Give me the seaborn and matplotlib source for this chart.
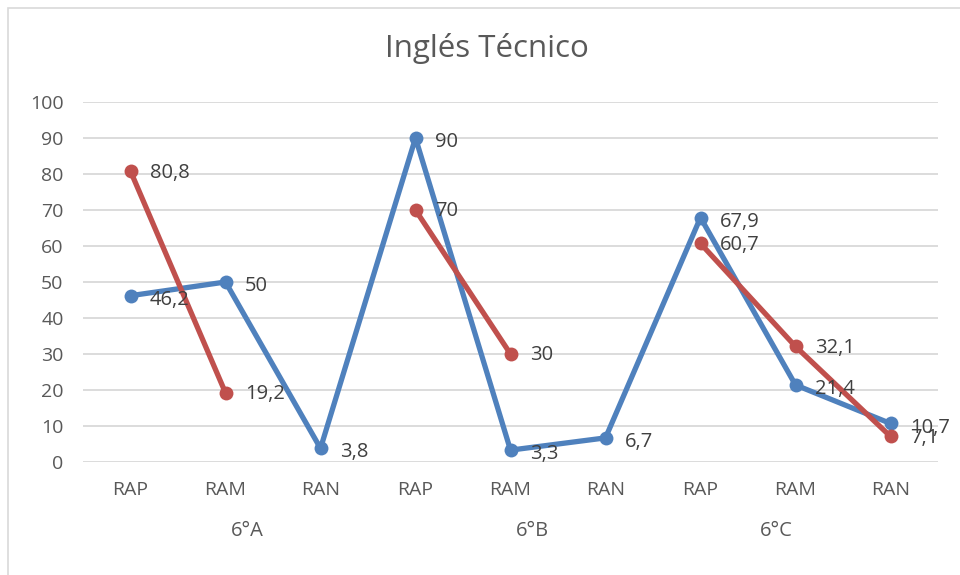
import numpy as np
import pandas as pd
import matplotlib.pyplot as plt
import matplotlib.transforms as mtransforms
import seaborn as sns

# Datos
grupos = ["6°A", "6°B", "6°C"]
niveles = ["RAP", "RAM", "RAN"]
serie_azul = [46.2, 50, 3.8, 90, 3.3, 6.7, 67.9, 21.4, 10.7]
serie_roja = [80.8, 19.2, np.nan, 70, 30, np.nan, 60.7, 32.1, 7.1]
etiquetas_azul = ["46,2", "50", "3,8", "90", "3,3", "6,7", "67,9", "21,4", "10,7"]
etiquetas_roja = ["80,8", "19,2", "", "70", "30", "", "60,7", "32,1", "7,1"]

sns.set_theme(style="white")
plt.rcParams['font.family'] = ['Open Sans', 'DejaVu Sans']

cat_labels = [n for g in grupos for n in niveles]
pos = np.arange(len(cat_labels))

# long-form table, red line broken where data is missing
rows = []
for i, v in enumerate(serie_azul):
    rows.append({"pos": i, "valor": v, "serie": "azul", "tramo": "a0"})
tramo = 0
for i, v in enumerate(serie_roja):
    if np.isnan(v):
        tramo += 1
        continue
    rows.append({"pos": i, "valor": v, "serie": "roja", "tramo": f"r{tramo}"})
df = pd.DataFrame(rows)

colores = {"azul": "#4F81BD", "roja": "#C0504D"}

fig = plt.figure(figsize=(9.6, 5.75), dpi=100)
ax = fig.add_axes([83 / 960, 1 - 462 / 575, (938 - 83) / 960, (462 - 102) / 575])

sns.lineplot(data=df, x="pos", y="valor", hue="serie", units="tramo", estimator=None,
             palette=colores, hue_order=["azul", "roja"], marker="o", markersize=10,
             markeredgewidth=0, linewidth=3.8, legend=False, sort=False, ax=ax)
for ln in ax.lines:
    ln.set_clip_on(False)
    ln.set_solid_capstyle("round")

# Data labels
for i, (v, t) in enumerate(zip(serie_azul, etiquetas_azul)):
    ax.annotate(t, (i, v), xytext=(14, -3), textcoords="offset points",
                ha="left", va="center", fontsize=14.5, color="#404040")
for i, (v, t) in enumerate(zip(serie_roja, etiquetas_roja)):
    if t:
        ax.annotate(t, (i, v), xytext=(14, -1), textcoords="offset points",
                    ha="left", va="center", fontsize=14.5, color="#404040")

ax.set_xlim(-0.5, len(cat_labels) - 0.5)
ax.set_ylim(0, 100)
ax.set_yticks(range(0, 101, 10))
ax.set_xticks(pos)
ax.set_xticklabels(cat_labels)
ax.tick_params(axis="x", length=0, pad=14, labelsize=14, labelcolor="#595959")
ax.tick_params(axis="y", length=0, pad=14, labelsize=14, labelcolor="#595959")
ax.yaxis.grid(True, color="#D9D9D9", linewidth=1.3)
ax.set_axisbelow(True)
for s in ax.spines.values():
    s.set_visible(False)
ax.set_xlabel("")
ax.set_ylabel("")

# Group labels (Excel places them a bit off-centre)
desplaz = [0.23, 0.23, -0.2]
trans = mtransforms.blended_transform_factory(ax.transData, fig.transFigure)
for k, g in enumerate(grupos):
    ax.text(k * 3 + 1 + desplaz[k], 1 - 531 / 575, g, transform=trans, ha="center",
            va="center", fontsize=14.5, color="#595959")

fig.text(487 / 960, 1 - 49 / 575, "Inglés Técnico", ha="center", va="center",
         fontsize=22.5, color="#595959")

# chart frame
fig.patches.append(plt.Rectangle((8 / 960, -0.1), 1.2, 1 - 8 / 575 + 0.1,
                                 transform=fig.transFigure, fill=False,
                                 edgecolor="#D9D9D9", linewidth=1.2))

fig.savefig("out.png", dpi=100)
